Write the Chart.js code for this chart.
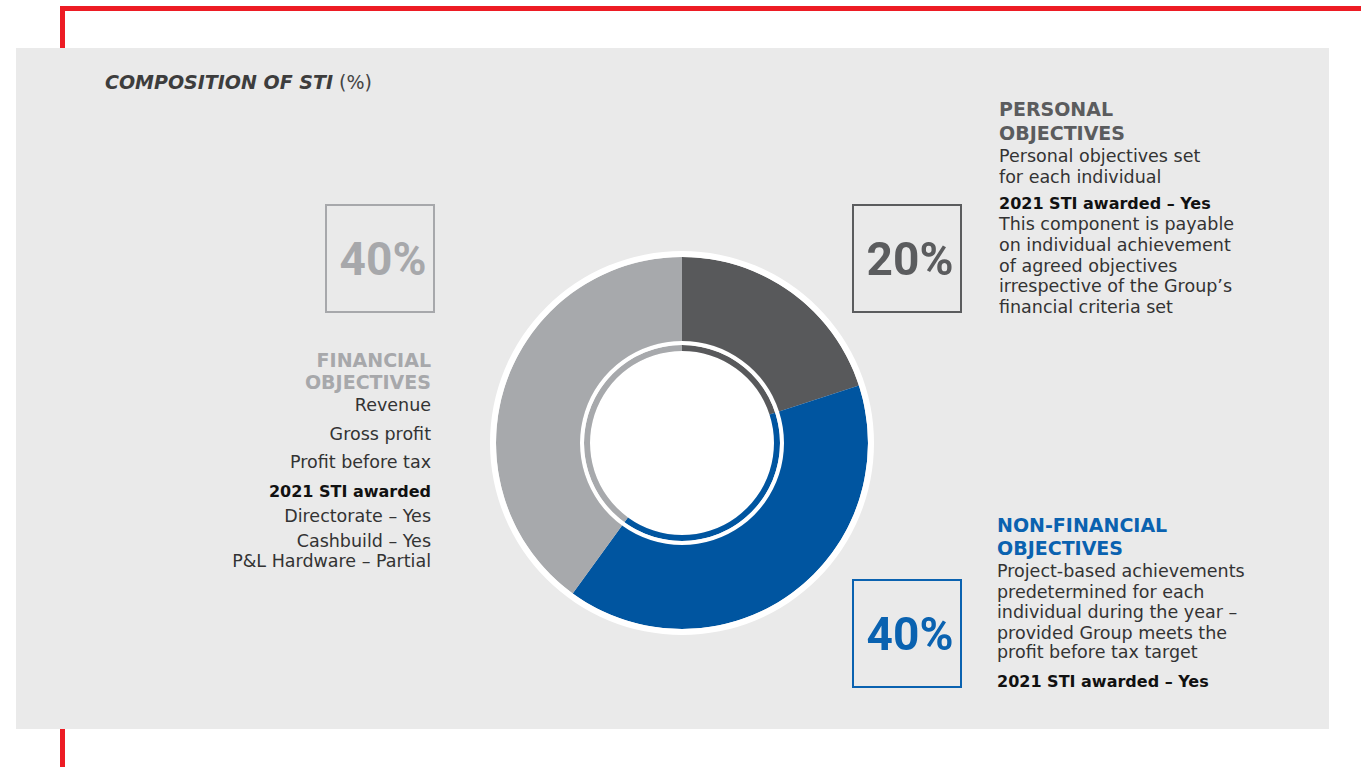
<!DOCTYPE html>
<html><head><meta charset="utf-8">
<script src="https://cdn.jsdelivr.net/npm/chart.js@4.4.1/dist/chart.umd.min.js"></script>
<style>
html,body{margin:0;padding:0;background:#fff;width:1361px;height:767px;overflow:hidden;font-family:"DejaVu Sans",sans-serif;}
#frame{position:absolute;left:60px;top:6px;width:1400px;height:800px;border-left:5px solid #ed1c24;border-top:5px solid #ed1c24;}
#panel{position:absolute;left:16px;top:48px;width:1313px;height:681px;background:#eaeaea;}
.t{position:absolute;white-space:nowrap;}
.box{position:absolute;box-sizing:border-box;border:2px solid;display:flex;align-items:center;justify-content:center;font-family:Roboto,sans-serif;font-weight:700;font-size:46px;line-height:1;padding-left:6px;}
#c{position:absolute;left:482px;top:243px;}
</style></head><body>
<div id="frame"></div><div id="panel"></div>
<canvas id="c" width="400" height="400"></canvas>
<div id="txt"></div>
<script>
// ---- data ----
const categories = ["Personal objectives", "Non-financial objectives", "Financial objectives"];
const shares = [20, 40, 40];
const sliceColors = ["#58595b", "#0055a0", "#a7a9ac"];

const personalHead = ["PERSONAL", "OBJECTIVES"];
const personalBody = ["Personal objectives set", "for each individual"];
const personalAward = ["2021 STI awarded \u2013 Yes"];
const personalNote = ["This component is payable", "on individual achievement", "of agreed objectives", "irrespective of the Group\u2019s", "financial criteria set"];

const nonFinHead = ["NON-FINANCIAL", "OBJECTIVES"];
const nonFinBody = ["Project-based achievements", "predetermined for each", "individual during the year \u2013", "provided Group meets the", "profit before tax target"];
const nonFinAward = ["2021 STI awarded \u2013 Yes"];

const finHead = ["FINANCIAL", "OBJECTIVES"];
const finBody = ["Revenue", "Gross profit", "Profit before tax"];
const finAward = ["2021 STI awarded"];
const finNote = ["Directorate \u2013 Yes", "Cashbuild \u2013 Yes", "P&L Hardware \u2013 Partial"];

// ---- chart ----
new Chart(document.getElementById('c'), {
  type: 'doughnut',
  data: {
    labels: categories,
    datasets: [
      { data: [100], backgroundColor: '#ffffff', borderWidth: 0, weight: 6 },
      { data: shares, backgroundColor: sliceColors, borderWidth: 0, weight: 84 },
      { data: [100], backgroundColor: '#ffffff', borderWidth: 0, weight: 4 },
      { data: shares, backgroundColor: sliceColors, borderWidth: 0, weight: 6 },
      { data: [100], backgroundColor: '#ffffff', borderWidth: 0, weight: 92 }
    ]
  },
  options: {
    responsive: false, animation: false, radius: 192, cutout: 0,
    layout: { padding: 0 }, events: [],
    plugins: { legend: { display: false }, tooltip: { enabled: false } }
  }
});

// ---- text ----
const txt = document.getElementById('txt');
function line(html, x, baseline, o) {
  const d = document.createElement('div');
  d.className = 't';
  const size = o.size || 17.5;
  d.style.fontSize = size + 'px';
  d.style.lineHeight = (size * 1.164) + 'px';
  d.style.fontWeight = o.bold ? '700' : '400';
  d.style.color = o.color || '#333333';
  d.style.top = (baseline - 0.928 * size) + 'px';
  if (o.right) { d.style.right = (1361 - x) + 'px'; d.style.textAlign = 'right'; }
  else d.style.left = x + 'px';
  d.innerHTML = html;
  txt.appendChild(d);
}
function esc(s){return s.replace(/&/g,'&amp;');}
function block(lines, x, baselines, o) { lines.forEach((s, i) => line(esc(s), x, baselines[i], o)); }

line('<b><i>COMPOSITION OF STI</i></b> <span style="font-weight:400;color:#444">(%)</span>', 105, 89, { size: 19, color: '#3d3d3d' });

const headStyle = { size: 19, bold: true };
block(personalHead, 999, [116, 140], Object.assign({ color: '#5b5c5e' }, headStyle));
block(personalBody, 999, [162, 183.5], {});
block(personalAward, 999, [210], { size: 16, bold: true, color: '#111' });
block(personalNote, 999, [230, 251.5, 272, 292.7, 313.5], {});

block(nonFinHead, 997, [531.7, 554.3], Object.assign({ color: '#0a62b0' }, headStyle));
block(nonFinBody, 997, [577, 598, 618.5, 639.2, 658.5], {});
block(nonFinAward, 997, [687.5], { size: 16, bold: true, color: '#111' });

block(finHead, 431, [366.7, 389], Object.assign({ color: '#a7a8ab', right: true }, headStyle));
block(finBody, 431, [411.2, 440, 468.3], { right: true });
block(finAward, 431, [497.7], { size: 16, bold: true, color: '#111', right: true });
block(finNote, 431, [522.7, 547.7, 567.7], { right: true });

// percentage boxes
function box(i, x, y, color) {
  const d = document.createElement('div');
  d.className = 'box';
  d.style.left = x + 'px'; d.style.top = y + 'px';
  d.style.width = '110px'; d.style.height = '109px';
  d.style.borderColor = color; d.style.color = color;
  d.textContent = shares[i] + '%';
  txt.appendChild(d);
}
box(0, 852, 204, '#5b5c5e');
box(1, 852, 579, '#0a62b0');
box(2, 325, 204, '#a7a8ab');
</script>
</body></html>
